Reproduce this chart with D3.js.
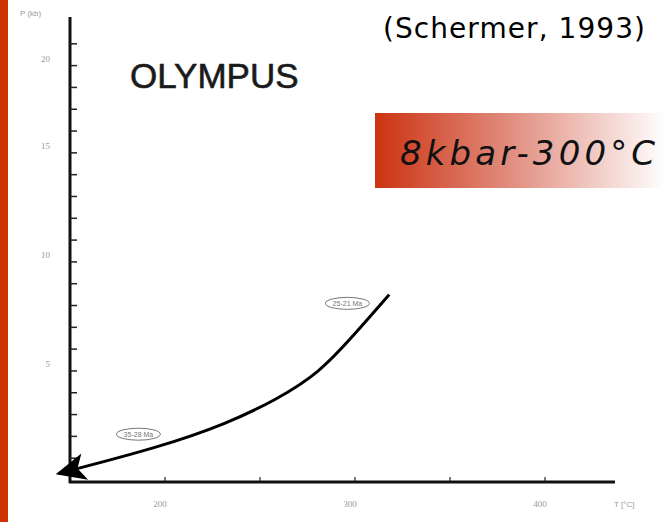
<!DOCTYPE html>
<html>
<head>
<meta charset="utf-8">
<script src="https://cdn.jsdelivr.net/npm/d3@7"></script>
<style>
  body { margin: 0; background: #fff; }
  svg { display: block; }
</style>
</head>
<body>
<div id="chart"></div>
<script>
// P-T path, Olympus (Schermer, 1993)

var width = 666;
var height = 522;

// data
var pathT = [144, 197, 233, 259, 281, 299, 318];
var pathP = [0.3, 1.5, 2.6, 3.7, 4.9, 6.6, 8.5];
var xTickVals = [200, 250, 300, 350, 400];
var xLabelVals = [200, 300, 400];
var yTickVals = d3.range(1, 21);
var yLabelVals = [5, 10, 15, 20];
var ageLabels = ["35-28 Ma", "25-21 Ma"];
var ageT = [186, 296];
var ageP = [2.1, 8.1];

var svg = d3.select("#chart")
  .append("svg")
  .attr("width", width)
  .attr("height", height);

var defs = svg.append("defs");

var grad = defs.append("linearGradient")
  .attr("id", "redFade")
  .attr("x1", "0%").attr("x2", "100%")
  .attr("y1", "0%").attr("y2", "0%");
grad.append("stop").attr("offset", "0%").attr("stop-color", "#cc3311");
grad.append("stop").attr("offset", "45%").attr("stop-color", "#e08a7c");
grad.append("stop").attr("offset", "100%").attr("stop-color", "#ffffff");

defs.append("marker")
  .attr("id", "arrow")
  .attr("viewBox", "0 0 10 10")
  .attr("refX", 9)
  .attr("refY", 5)
  .attr("markerWidth", 11)
  .attr("markerHeight", 10)
  .attr("markerUnits", "strokeWidth")
  .attr("orient", "auto-start-reverse")
  .append("path")
  .attr("d", "M0,0.5 L10,5 L0,9.5 L2.5,5 z")
  .attr("fill", "#000");

// red band on the left
svg.append("rect")
  .attr("x", 0).attr("y", 0)
  .attr("width", 8).attr("height", height)
  .attr("fill", "#cc3300");

// scales
var x = d3.scaleLinear().domain([150, 400]).range([70, 545]);
var y = d3.scaleLinear().domain([0, 21]).range([480, 22]);

var axisY0 = 482;
var axisX0 = 70;

// axis lines
svg.append("line")
  .attr("x1", axisX0).attr("x2", axisX0)
  .attr("y1", 17).attr("y2", axisY0 + 1)
  .attr("stroke", "#111").attr("stroke-width", 3);

svg.append("line")
  .attr("x1", axisX0 - 1).attr("x2", 615)
  .attr("y1", axisY0).attr("y2", axisY0)
  .attr("stroke", "#111").attr("stroke-width", 3);

// y minor ticks
svg.selectAll(".yTick")
  .data(yTickVals)
  .enter()
  .append("line")
  .attr("class", "yTick")
  .attr("x1", axisX0).attr("x2", axisX0 + 7)
  .attr("y1", function(d) { return y(d); })
  .attr("y2", function(d) { return y(d); })
  .attr("stroke", "#222").attr("stroke-width", 1.5);

// y labels
svg.selectAll(".yLabel")
  .data(yLabelVals)
  .enter()
  .append("text")
  .attr("class", "yLabel")
  .attr("x", 50)
  .attr("y", function(d) { return d === 20 ? 62 : y(d) - 4; })
  .attr("text-anchor", "end")
  .attr("font-family", "Liberation Serif, serif")
  .attr("font-size", 9)
  .attr("fill", "#999")
  .text(function(d) { return d; });

// x ticks
svg.selectAll(".xTick")
  .data(xTickVals)
  .enter()
  .append("line")
  .attr("class", "xTick")
  .attr("x1", function(d) { return x(d); })
  .attr("x2", function(d) { return x(d); })
  .attr("y1", axisY0).attr("y2", axisY0 - 5)
  .attr("stroke", "#222").attr("stroke-width", 1.2);

svg.selectAll(".xLabel")
  .data(xLabelVals)
  .enter()
  .append("text")
  .attr("class", "xLabel")
  .attr("x", function(d) { return x(d) - 5; })
  .attr("y", 507)
  .attr("text-anchor", "middle")
  .attr("font-family", "Liberation Serif, serif")
  .attr("font-size", 9)
  .attr("fill", "#999")
  .text(function(d) { return d; });

// axis titles
svg.append("text")
  .attr("x", 20).attr("y", 16)
  .attr("font-family", "Liberation Sans, sans-serif")
  .attr("font-size", 8)
  .attr("fill", "#999")
  .text("P (kb)");

svg.append("text")
  .attr("x", 614).attr("y", 507)
  .attr("font-family", "Liberation Sans, sans-serif")
  .attr("font-size", 8)
  .attr("fill", "#999")
  .text("T [°C]");

// P-T path
var line = d3.line()
  .x(function(d) { return x(d[0]); })
  .y(function(d) { return y(d[1]); })
  .curve(d3.curveBasis);

var pts = pathT.map(function(t, i) { return [t, pathP[i]]; });

svg.append("path")
  .datum(pts)
  .attr("d", line)
  .attr("fill", "none")
  .attr("stroke", "#000")
  .attr("stroke-width", 3)
  .attr("marker-start", "url(#arrow)");

// age labels in ellipses
var ages = svg.selectAll(".age")
  .data(ageLabels)
  .enter()
  .append("g")
  .attr("class", "age")
  .attr("transform", function(d, i) {
    return "translate(" + x(ageT[i]) + "," + y(ageP[i]) + ")";
  });

ages.append("ellipse")
  .attr("rx", 22).attr("ry", 6)
  .attr("fill", "#fff")
  .attr("stroke", "#777")
  .attr("stroke-width", 1);

ages.append("text")
  .attr("y", 2.5)
  .attr("text-anchor", "middle")
  .attr("font-family", "Liberation Sans, sans-serif")
  .attr("font-size", 7)
  .attr("fill", "#777")
  .text(function(d) { return d; });

// titles
svg.append("text")
  .attr("x", 130).attr("y", 88)
  .attr("font-family", "Liberation Sans, Arial, sans-serif")
  .attr("font-size", 35)
  .attr("fill", "#1a1a1a")
  .attr("stroke", "#1a1a1a")
  .attr("stroke-width", 0.6)
  .text("OLYMPUS");

svg.append("text")
  .attr("x", 383).attr("y", 38)
  .attr("font-family", "DejaVu Sans, sans-serif")
  .attr("font-size", 28)
  .attr("textLength", 262)
  .attr("fill", "#000")
  .text("(Schermer, 1993)");

svg.append("rect")
  .attr("x", 375).attr("y", 113)
  .attr("width", 291).attr("height", 75)
  .attr("fill", "url(#redFade)");

svg.append("text")
  .attr("x", 400).attr("y", 165)
  .attr("font-family", "DejaVu Sans, sans-serif")
  .attr("font-style", "italic")
  .attr("font-weight", 300)
  .attr("font-size", 34)
  .attr("textLength", 255)
  .attr("fill", "#111")
  .text("8kbar-300°C");
</script>
</body>
</html>
